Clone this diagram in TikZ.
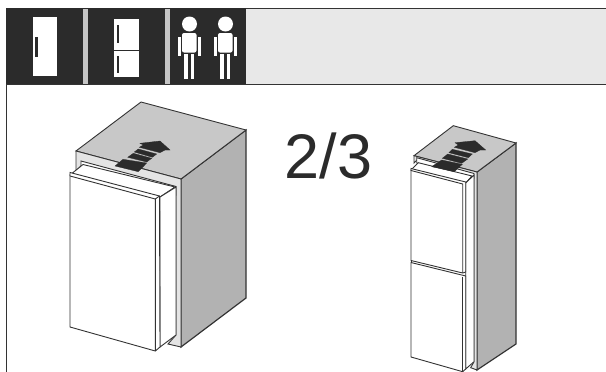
\documentclass[tikz,border=0pt]{standalone}
\usepackage{fontspec}
\setmainfont{Liberation Sans}
\definecolor{barD}{HTML}{2B2B2B}
\definecolor{barL}{HTML}{E8E8E8}
\definecolor{topG}{HTML}{C8C8C8}
\definecolor{sideG}{HTML}{B2B2B2}
\definecolor{frameG}{HTML}{E4E4E4}
\definecolor{lineG}{HTML}{333333}
\tikzset{
 edge/.style={draw=lineG,line width=0.9pt,line join=miter},
 thick edge/.style={draw=lineG,line width=1.2pt,line join=miter},
 icon/.style={fill=white,draw=none},
 handle/.style={fill=barD,draw=none},
 sep/.style={fill=barL!85!black,draw=none},
 mark fill/.style={fill=barD,draw=barD,line width=0.3pt}
}
\begin{document}
\begin{tikzpicture}[x=1pt,y=-1pt]
\useasboundingbox (0,0) rectangle (606,372);
\fill[white] (0,0) rectangle (606,372);
% header
\fill[barL] (246,8.5) rectangle (606,84.5);
\fill[barD] (6,8) rectangle (246,85);
\fill[sep] (83,9) rectangle (87.5,84);
\fill[sep] (164.5,9) rectangle (169.5,84);
\draw[edge] (246,8.5) -- (606,8.5);
\draw[edge] (6,84.5) -- (606,84.5);
\draw[edge] (6.7,84) -- (6.7,372);
% icon fridge 1
\fill[icon] (32.5,17) rectangle (57,76);
\fill[handle] (35.3,37) rectangle (37.9,57);
% icon fridge 2
\fill[icon] (114,18.5) rectangle (138.5,49.5);
\fill[icon] (114,51) rectangle (138.5,77);
\fill[handle] (117,25) rectangle (119.4,43);
\fill[handle] (117,56) rectangle (119.4,73);
% persons
\foreach \dx in {0,36}{
 \begin{scope}[xshift=\dx pt]
 \fill[icon] (189.5,24) circle (7.5);
 \fill[icon,rounded corners=2pt] (182,33) rectangle (196.5,52.5);
 \fill[icon] (177.5,37) rectangle (180.5,56);
 \fill[icon] (198,37) rectangle (201,56);
 \fill[icon] (184,54) rectangle (187.5,79);
 \fill[icon] (190.5,54) rectangle (194,79);
 \end{scope}
}
% text
\node[inner sep=0pt,font=\fontsize{63}{63}\selectfont,text=barD] (frac) at (328.5,155.5) {2/3};
% large fridge
\path[fill=sideG,thick edge] (181,179) -- (246,130) -- (246,298) -- (181,347) -- cycle;
\path[fill=topG,edge] (76,151) -- (141,102) -- (246,130) -- (181,179) -- cycle;
\path[fill=frameG,edge] (76,151) -- (181,179) -- (181,347) -- (168,344) -- (176,335) -- (176,187) -- (83,164) -- (76,171) -- cycle;
\path[fill=white,edge] (81,169) -- (81,161) -- (176,186.5) -- (176,195) -- cycle;
\path[fill=white,edge] (70,175) -- (83,164.5) -- (175,187) -- (160,197) -- cycle;
\path[fill=white,edge] (160,197) -- (176,187) -- (176,335) -- (160,347) -- cycle;
\path[fill=white,edge] (70,172.5) -- (159.5,196) -- (160,347) -- (155.3,351) -- (70,327) -- cycle;
\draw[edge] (70,176) -- (155.3,199) -- (155.3,351);
\draw[edge] (159.5,196) -- (155.3,199);
% arrow large
\path[mark fill] (115,166) -- (123,159.3) -- (146.7,163) -- (138.3,171.7) -- cycle;
\path[mark fill] (127.7,157.3) -- (133.3,153.3) -- (151.7,158.3) -- (146.7,162) -- cycle;
\path[mark fill] (134.3,152) -- (138.3,149) -- (156.7,154) -- (152.3,157.3) -- cycle;
\path[mark fill] (139.3,147.3) -- (143.3,145) -- (140,143.3) -- (160,141) -- (170,150) -- (165,150) -- (160,152.7) -- cycle;
% small fridge
\path[fill=sideG,thick edge] (477,172) -- (516,143) -- (516,344) -- (477,370) -- cycle;
\path[fill=topG,edge] (414,155.7) -- (453.3,125.7) -- (516,143) -- (477,172) -- cycle;
\path[fill=frameG,edge] (414,155.7) -- (477,172) -- (477,370) -- (470.7,367.7) -- (474,361.7) -- (474,175) -- (417,160) -- (414,163) -- cycle;
\path[fill=white,edge] (416.7,163) -- (416.7,157.7) -- (474,173.5) -- (474,178) -- cycle;
\path[fill=white,edge] (411,170) -- (418.3,162.7) -- (472,176) -- (465.7,183) -- cycle;
\path[fill=white,edge] (465.7,183) -- (474,175) -- (474,361.7) -- (465.7,369) -- cycle;
\path[fill=white,edge] (411,168.5) -- (465.7,182) -- (465.7,272) -- (462.7,273) -- (411,260.5) -- cycle;
\draw[edge] (411,170.5) -- (462.7,184) -- (462.7,273);
\path[fill=white,edge] (411,262.5) -- (465.7,276) -- (465.7,369) -- (462.7,371.7) -- (411,357) -- cycle;
\draw[edge] (462.7,276.5) -- (462.7,371.7);
\draw[edge] (411,260.5) -- (411,262.5);
% arrow small
\path[mark fill] (431.7,166.7) -- (441.7,160) -- (462.3,164.3) -- (454.3,171.7) -- cycle;
\path[mark fill] (442.3,158.3) -- (447.7,154) -- (467.7,159) -- (461.7,163.3) -- cycle;
\path[mark fill] (449,152.7) -- (452.3,149.3) -- (472.3,154) -- (468.3,157.7) -- cycle;
\path[mark fill] (454.3,147.3) -- (458.3,145) -- (455,142.7) -- (475,140.7) -- (485.7,150) -- (480,150) -- (475,152.7) -- cycle;
\end{tikzpicture}
\end{document}
